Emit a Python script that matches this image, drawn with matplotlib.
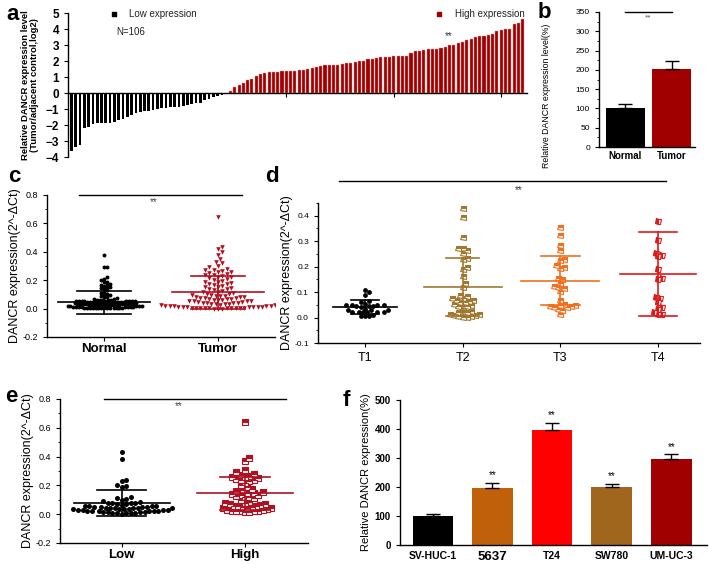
import numpy as np
import matplotlib
matplotlib.use("Agg")
import matplotlib.pyplot as plt
from matplotlib.ticker import MultipleLocator

plt.rcParams['font.family'] = ['Liberation Sans', 'DejaVu Sans']

# ---- panel a: per-patient log2 ratio, sorted
low_vals = [-3.6, -3.35, -3.25, -2.2, -2.1, -1.95, -1.9, -1.9, -1.88, -1.85,
            -1.8, -1.7, -1.6, -1.5, -1.35, -1.25, -1.2, -1.15, -1.1, -1.05,
            -1.0, -0.95, -0.92, -0.9, -0.88, -0.85, -0.8, -0.78, -0.7, -0.65,
            -0.62, -0.45, -0.35, -0.28, -0.2, -0.15, -0.08]
high_vals = [0.1, 0.35, 0.5, 0.65, 0.8, 0.9, 1.05, 1.2, 1.25, 1.3,
             1.32, 1.33, 1.35, 1.37, 1.38, 1.4, 1.42, 1.45, 1.5, 1.55,
             1.6, 1.7, 1.72, 1.74, 1.75, 1.78, 1.8, 1.85, 1.88, 1.95,
             2.0, 2.02, 2.1, 2.15, 2.2, 2.22, 2.25, 2.28, 2.3, 2.3,
             2.32, 2.32, 2.5, 2.6, 2.62, 2.7, 2.72, 2.75, 2.78, 2.8,
             2.85, 3.0, 3.02, 3.1, 3.2, 3.3, 3.35, 3.5, 3.55, 3.58,
             3.6, 3.7, 3.9, 3.92, 4.0, 4.02, 4.3, 4.4, 4.65]

# ---- panel b
b_groups = ["Normal", "Tumor"]
b_means = [102, 203]
b_errs = [10, 21]

# ---- panel c
c_normal = [0.375, 0.29, 0.29, 0.22, 0.21, 0.20, 0.19, 0.185, 0.175, 0.17,
            0.165, 0.16, 0.155, 0.15, 0.145, 0.14, 0.13, 0.12, 0.11, 0.105,
            0.10, 0.095, 0.09, 0.085, 0.08, 0.075, 0.07,
            0.065, 0.063, 0.062, 0.06, 0.06, 0.058, 0.057, 0.056, 0.055, 0.055,
            0.054, 0.053, 0.052, 0.05, 0.05, 0.049, 0.048, 0.047, 0.046, 0.045,
            0.045, 0.044, 0.043, 0.042, 0.041, 0.04, 0.04, 0.039, 0.038, 0.037,
            0.036, 0.035, 0.035, 0.034, 0.033, 0.032, 0.031, 0.03, 0.03, 0.029,
            0.028, 0.027, 0.026, 0.025, 0.025, 0.024, 0.023, 0.022, 0.021, 0.02,
            0.02, 0.019, 0.018, 0.017, 0.016, 0.015, 0.015, 0.014, 0.013, 0.012,
            0.011, 0.01, 0.01, 0.009, 0.008, 0.007, 0.006, 0.005, 0.005, 0.004,
            0.004, 0.003, 0.003, 0.002, 0.002, 0.002, 0.001, 0.001, 0.001]
c_tumor = [0.645, 0.435, 0.42, 0.4, 0.38, 0.35, 0.33, 0.32, 0.3, 0.29,
           0.28, 0.275, 0.27, 0.265, 0.26, 0.255, 0.25, 0.245, 0.24, 0.235,
           0.23, 0.225, 0.22, 0.215, 0.21, 0.2, 0.195, 0.19, 0.185, 0.18,
           0.175, 0.17, 0.165, 0.16, 0.155, 0.15, 0.145, 0.14, 0.135, 0.13,
           0.125, 0.12, 0.115, 0.11, 0.105, 0.1,
           0.095, 0.094, 0.092, 0.09, 0.088, 0.085, 0.082, 0.08, 0.078, 0.075,
           0.072, 0.07, 0.068, 0.065, 0.062, 0.06, 0.058, 0.055, 0.052, 0.05,
           0.05, 0.048, 0.045, 0.042, 0.04, 0.04, 0.038, 0.035, 0.033, 0.03,
           0.03, 0.028, 0.026, 0.024, 0.022, 0.02, 0.02, 0.018, 0.016, 0.015,
           0.014, 0.012, 0.011, 0.01, 0.01, 0.009, 0.008, 0.007, 0.006, 0.005,
           0.005, 0.004, 0.003, 0.002, 0.002, 0.001, 0.001, 0.0, 0.0, 0.0]
c_labels = ["Normal", "Tumor"]
c_means = [0.045, 0.115]
c_sds = [0.08, 0.115]

# ---- panel d (stage)
d_labels = ["T1", "T2", "T3", "T4"]
d_t1 = [0.11, 0.10, 0.09, 0.065, 0.06, 0.055, 0.05, 0.05, 0.05, 0.05,
        0.045, 0.045, 0.045, 0.04, 0.035, 0.03, 0.03, 0.03, 0.02, 0.02,
        0.02, 0.02, 0.02, 0.02, 0.01, 0.005, 0.005, 0.005]
d_t2 = [0.43, 0.395, 0.315, 0.275, 0.275, 0.265, 0.255, 0.235, 0.23, 0.2,
        0.19, 0.165, 0.135, 0.12, 0.09, 0.085, 0.075, 0.075, 0.07, 0.07,
        0.065, 0.06, 0.06, 0.055, 0.05, 0.045, 0.045, 0.045, 0.025, 0.022,
        0.02, 0.02, 0.015, 0.012, 0.01, 0.01, 0.008, 0.005, 0.003, 0.002]
d_t3 = [0.355, 0.325, 0.285, 0.265, 0.23, 0.225, 0.205, 0.2, 0.195, 0.155,
        0.15, 0.135, 0.125, 0.12, 0.115, 0.105, 0.07, 0.055, 0.05, 0.05,
        0.045, 0.045, 0.04, 0.04, 0.035, 0.03, 0.015]
d_t4 = [0.38, 0.305, 0.255, 0.245, 0.24, 0.19, 0.155, 0.15, 0.08, 0.075,
        0.06, 0.04, 0.035, 0.02, 0.015, 0.015]
d_means = [0.042, 0.12, 0.145, 0.17]
d_sds = [0.028, 0.115, 0.096, 0.165]

# ---- panel e (grade)
e_labels = ["Low", "High"]
e_low = [0.43, 0.38, 0.235, 0.23, 0.2, 0.195, 0.19, 0.12, 0.11, 0.105,
         0.1, 0.09, 0.085, 0.08, 0.08, 0.075, 0.075, 0.07, 0.07, 0.065,
         0.06, 0.06, 0.055, 0.055, 0.05, 0.05, 0.05, 0.048, 0.045, 0.045,
         0.042, 0.04, 0.04, 0.04, 0.038, 0.035, 0.035, 0.033, 0.03, 0.03,
         0.03, 0.028, 0.025, 0.025, 0.022, 0.02, 0.02, 0.02, 0.018, 0.015,
         0.015, 0.012, 0.01, 0.01, 0.008, 0.005, 0.005, 0.003]
e_high = [0.64, 0.39, 0.37, 0.305, 0.29, 0.28, 0.27, 0.265, 0.26, 0.26,
          0.25, 0.245, 0.24, 0.235, 0.23, 0.22, 0.2, 0.19, 0.175, 0.17,
          0.16, 0.155, 0.15, 0.145, 0.14, 0.135, 0.13, 0.125, 0.12, 0.12,
          0.11, 0.1, 0.085, 0.08, 0.075, 0.07, 0.07, 0.065, 0.06, 0.06,
          0.055, 0.05, 0.05, 0.045, 0.04, 0.04, 0.035, 0.03, 0.03, 0.025,
          0.025, 0.02, 0.02, 0.02, 0.015, 0.015]
e_means = [0.075, 0.146]
e_sds = [0.09, 0.115]

# ---- panel f (cell lines)
f_lines = ["SV-HUC-1", "5637", "T24", "SW780", "UM-UC-3"]
f_means = [100, 195, 397, 201, 298]
f_errs = [8, 20, 25, 10, 15]
f_colors = ["#000000", "#C0600A", "#FF0000", "#A0661E", "#A00000"]

DARKRED = "#A00000"


def swarm_x(ax, xc, vals, d):
    # simple beeswarm in pixel space, returns x in data units
    vals = np.asarray(vals, dtype=float)
    pix = ax.transData.transform(np.column_stack([np.full(len(vals), xc), vals]))
    cx = pix[0, 0]
    ys = pix[:, 1]
    xs = np.zeros(len(vals))
    placed = []
    for i in np.argsort(ys):
        y = ys[i]
        near = [p for p in placed if abs(p[1] - y) < d]
        k = 0
        found = None
        while found is None:
            cands = [0.0] if k == 0 else [k * d * 0.5, -k * d * 0.5]
            for off in cands:
                if all((off - px) ** 2 + (y - py) ** 2 >= d * d for px, py in near):
                    found = off
                    break
            k += 1
        xs[i] = found
        placed.append((found, y))
    back = ax.transData.inverted().transform(np.column_stack([cx + xs, ys]))
    return back[:, 0]


def mean_sd(ax, x, m, s, color, hw=0.4, cw=0.2, lw=1.2):
    ax.plot([x - hw, x + hw], [m, m], color=color, lw=lw, zorder=4)
    ax.plot([x, x], [m - s, m + s], color=color, lw=lw, zorder=4)
    ax.plot([x - cw, x + cw], [m + s, m + s], color=color, lw=lw, zorder=4)
    ax.plot([x - cw, x + cw], [m - s, m - s], color=color, lw=lw, zorder=4)


def style(ax):
    for sp in ["top", "right"]:
        ax.spines[sp].set_visible(False)
    for sp in ["left", "bottom"]:
        ax.spines[sp].set_linewidth(1.0)
    ax.tick_params(direction="out", length=3, width=0.8)
    ax.tick_params(which="minor", direction="out", length=1.5, width=0.6)


W, H = 709, 564
fig = plt.figure(figsize=(W / 100, H / 100), dpi=100)


def rect(x0, y0, x1, y1):
    return [x0 / W, 1 - y1 / H, (x1 - x0) / W, (y1 - y0) / H]


# ================= a
ax = fig.add_axes(rect(68, 13, 527, 157))
style(ax)
n_low = len(low_vals)
idx = np.arange(n_low + len(high_vals))
ax.bar(idx[:n_low], low_vals, width=0.62, color="black")
ax.bar(idx[n_low:], high_vals, width=0.72, color=DARKRED, edgecolor="#E89090", linewidth=0.3)
ax.set_xlim(-0.8, 106)
ax.set_ylim(-4, 5)
ax.spines["bottom"].set_position(("data", 0))
ax.set_xticks([50, 75, 100])
ax.set_xticklabels([])
ax.tick_params(axis="x", length=3)
ax.set_yticks(range(-4, 6))
for t in ax.get_yticklabels():
    t.set_fontweight("bold")
    t.set_fontsize(8.5)
ax.set_ylabel("Relative DANCR expression level\n(Tumor/adjacent control,log2)",
              fontsize=6.8, fontweight="bold", labelpad=5, linespacing=1.0)
ax.scatter([9.8], [4.95], marker="s", s=8, color="black", clip_on=False)
ax.text(13.3, 4.95, "Low expression", fontsize=7, va="center", color="#222222")
ax.scatter([85.5], [4.95], marker="s", s=8, color=DARKRED, clip_on=False)
ax.text(89.3, 4.95, "High expression", fontsize=7, va="center", color="#222222")
ax.text(10.5, 3.8, "N=106", fontsize=7, va="center", color="#222222")
ax.text(87.7, 3.55, "**", fontsize=7, ha="center", va="center", color="#333333")
fig.text(6 / W, 1 - 14 / H, "a", fontsize=16, fontweight="bold", va="center")

# ================= b
ax = fig.add_axes(rect(599, 12, 695, 147))
style(ax)
ax.bar([0, 1], b_means, width=0.84, color=["black", DARKRED])
ax.errorbar([0, 1], b_means, yerr=[[0, 0], b_errs], fmt="none", ecolor="black",
            elinewidth=1, capsize=5, capthick=1)
ax.set_xlim(-0.56, 1.5)
ax.set_ylim(0, 350)
ax.yaxis.set_major_locator(MultipleLocator(50))
ax.yaxis.set_minor_locator(MultipleLocator(25))
ax.set_xticks([0, 1])
ax.set_xticklabels(b_groups, fontsize=7, fontweight="bold")
ax.tick_params(axis="y", labelsize=6)
ax.tick_params(axis="x", length=0, pad=3)
ax.set_ylabel("Relative DANCR expression level(%)", fontsize=6.3, labelpad=2)
ax.yaxis.set_label_coords(-0.5, 0.38)
ax.plot([0, 1], [350, 350], color="black", lw=1, clip_on=False)
ax.text(0.5, 336, "**", fontsize=6, ha="center", va="center", color="#555555")
fig.text(538 / W, 1 - 12 / H, "b", fontsize=16, fontweight="bold", va="center")

# ================= c
ax = fig.add_axes(rect(47, 195, 275, 337))
style(ax)
ax.set_xlim(-0.5, 1.5)
ax.set_ylim(-0.2, 0.8)
ax.yaxis.set_minor_locator(MultipleLocator(0.1))
ax.set_yticks([-0.2, 0.0, 0.2, 0.4, 0.6, 0.8])
ax.set_yticklabels(["-0.2", "0.0", "0.2", "0.4", "0.6", "0.8"], fontsize=6.5)
xs = swarm_x(ax, 0, c_normal, 2.8)
ax.scatter(xs, c_normal, s=8, color="black", zorder=3, linewidths=0)
xs = swarm_x(ax, 1, c_tumor, 4.4)
ax.scatter(xs, c_tumor, s=11, marker="v", color="#B01020", zorder=3, linewidths=0)
mean_sd(ax, 0, c_means[0], c_sds[0], "black", hw=0.4, cw=0.24)
mean_sd(ax, 1, c_means[1], c_sds[1], "#B01020", hw=0.4, cw=0.24)
ax.set_xticks([0, 1])
ax.set_xticklabels(c_labels, fontsize=9.5, fontweight="bold")
ax.tick_params(axis="x", pad=1.5)
ax.set_ylabel("DANCR expression(2^-\u0394Ct)", fontsize=9, labelpad=1)
ax.plot([-0.22, 1.21], [0.8, 0.8], color="black", lw=1, clip_on=False)
ax.text(0.44, 0.75, "**", fontsize=7, ha="center", va="center", color="#444444")
fig.text(8 / W, 1 - 176 / H, "c", fontsize=16, fontweight="bold", va="center")

# ================= d
ax = fig.add_axes(rect(318, 203, 700, 343))
style(ax)
ax.set_xlim(-0.48, 3.43)
ax.set_ylim(-0.1, 0.45)
ax.set_yticks([-0.1, 0.0, 0.1, 0.2, 0.3, 0.4])
ax.set_yticklabels(["-0.1", "0.0", "0.1", "0.2", "0.3", "0.4"], fontsize=6)
ax.yaxis.set_minor_locator(MultipleLocator(0.05))
d_cols = ["black", "#A07830", "#F07020", "#E01818"]
d_data = [d_t1, d_t2, d_t3, d_t4]
d_fill = [None, "top", "top", "left"]
d_cw = [0.14, 0.17, 0.2, 0.19]
d_hw = [0.33, 0.4, 0.4, 0.39]
for i, vals in enumerate(d_data):
    xs = swarm_x(ax, i, vals, 4.2)
    if i == 0:
        ax.scatter(xs, vals, s=12, color="black", zorder=3, linewidths=0)
    else:
        ax.plot(xs, vals, ls="none", marker="s", ms=3.6, mec=d_cols[i], mfc=d_cols[i],
                fillstyle=d_fill[i], markerfacecoloralt="white", mew=0.8, zorder=3)
    mean_sd(ax, i, d_means[i], d_sds[i], d_cols[i], hw=d_hw[i], cw=d_cw[i])
ax.set_xticks(range(4))
ax.set_xticklabels(d_labels, fontsize=9)
ax.set_ylabel("DANCR expression(2^-\u0394Ct)", fontsize=9, labelpad=1)
ax.plot([-0.26, 3.08], [0.536, 0.536], color="black", lw=1, clip_on=False)
ax.text(1.57, 0.5, "**", fontsize=7, ha="center", va="center", color="#333333")
fig.text(265 / W, 1 - 177 / H, "d", fontsize=16, fontweight="bold", va="center")

# ================= e
ax = fig.add_axes(rect(60, 399, 308, 543))
style(ax)
ax.set_xlim(-0.5, 1.51)
ax.set_ylim(-0.2, 0.8)
ax.set_yticks([-0.2, 0.0, 0.2, 0.4, 0.6, 0.8])
ax.set_yticklabels(["-0.2", "0.0", "0.2", "0.4", "0.6", "0.8"], fontsize=6.5)
ax.yaxis.set_minor_locator(MultipleLocator(0.1))
xs = swarm_x(ax, 0, e_low, 4.6)
ax.scatter(xs, e_low, s=13, color="black", zorder=3, linewidths=0)
xs = swarm_x(ax, 1, e_high, 4.4)
ax.plot(xs, e_high, ls="none", marker="s", ms=3.8, mec="#B01020", mfc="#B01020",
        fillstyle="top", markerfacecoloralt="white", mew=0.8, zorder=3)
mean_sd(ax, 0, e_means[0], e_sds[0], "black", hw=0.39, cw=0.2)
mean_sd(ax, 1, e_means[1], e_sds[1], "#B01020", hw=0.39, cw=0.2)
ax.set_xticks([0, 1])
ax.set_xticklabels(e_labels, fontsize=9.5, fontweight="bold")
ax.tick_params(axis="x", pad=1.5)
ax.set_ylabel("DANCR expression(2^-\u0394Ct)", fontsize=9, labelpad=1)
ax.plot([-0.14, 1.33], [0.8, 0.8], color="black", lw=1, clip_on=False)
ax.text(0.46, 0.75, "**", fontsize=7, ha="center", va="center", color="#444444")
fig.text(5 / W, 1 - 396 / H, "e", fontsize=16, fontweight="bold", va="center")

# ================= f
ax = fig.add_axes(rect(400, 400, 707, 545))
style(ax)
xpos = np.arange(len(f_lines))
ax.bar(xpos, f_means, width=0.68, color=f_colors)
ax.errorbar(xpos, f_means, yerr=[np.zeros(len(f_errs)), f_errs], fmt="none",
            ecolor="black", elinewidth=1, capsize=5, capthick=1)
for i in range(1, len(f_lines)):
    ax.text(i, f_means[i] + f_errs[i] + 8, "**", fontsize=7, ha="center", va="bottom")
ax.set_xlim(-0.55, 4.6)
ax.set_ylim(0, 500)
ax.set_yticks(range(0, 501, 100))
for t in ax.get_yticklabels():
    t.set_fontweight("bold")
    t.set_fontsize(7)
ax.set_xticks(xpos)
ax.set_xticklabels(f_lines, fontweight="bold", fontsize=7.5)
ax.get_xticklabels()[1].set_fontsize(9.5)
ax.tick_params(axis="x", length=0, pad=4)
ax.set_ylabel("Relative DANCR expression(%)", fontsize=8, labelpad=3)
fig.text(343 / W, 1 - 400 / H, "f", fontsize=16, fontweight="bold", va="center")

fig.savefig("out.png", dpi=100)
